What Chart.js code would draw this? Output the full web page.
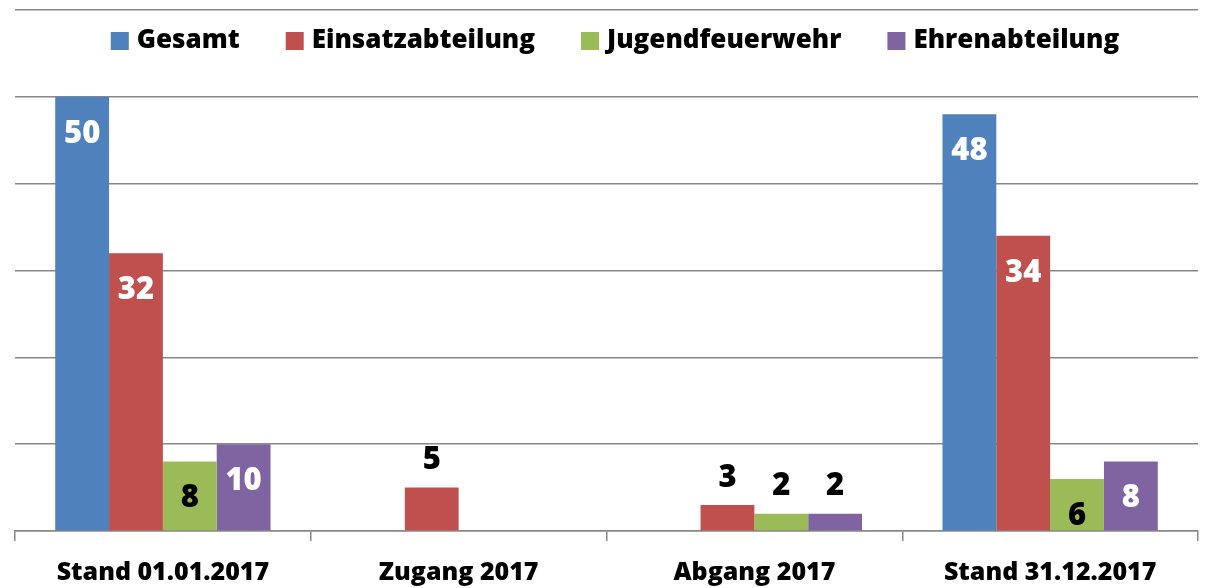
<!DOCTYPE html>
<html>
<head>
<meta charset="utf-8">
<script src="https://cdn.jsdelivr.net/npm/chart.js@4/dist/chart.umd.min.js"></script>
<style>
  html, body { margin: 0; padding: 0; background: #fff; }
  #wrap { width: 1218px; height: 588px; }
</style>
</head>
<body>
<div id="wrap"><canvas id="myChart"></canvas></div>
<script>
const categories = ['Stand 01.01.2017', 'Zugang 2017', 'Abgang 2017', 'Stand 31.12.2017'];
const gesamt = [50, null, null, 48];
const einsatz = [32, 5, 3, 34];
const jugend = [8, null, 2, 6];
const ehren = [10, null, 2, 8];

const FONT = '"Open Sans", sans-serif';

// value labels like in Excel: big bars inside at the top, small ones above
const valueLabels = {
  id: 'valueLabels',
  afterDatasetsDraw(chart) {
    const ctx = chart.ctx;
    ctx.save();
    ctx.font = '800 31px ' + FONT;
    ctx.textAlign = 'center';
    ctx.textBaseline = 'middle';
    chart.data.datasets.forEach((ds, i) => {
      chart.getDatasetMeta(i).data.forEach((bar, j) => {
        const v = ds.data[j];
        if (v === null) return;
        if (v >= 6) {
          ctx.fillStyle = ds.labelColor;
          ctx.fillText(v, bar.x, bar.y + 37);
        } else {
          ctx.fillStyle = '#000';
          ctx.fillText(v, bar.x, bar.y - 27);
        }
      });
    });
    ctx.restore();
  }
};

// legend drawn inside the plot, between the top two grid lines
const innerLegend = {
  id: 'innerLegend',
  afterDraw(chart) {
    const ctx = chart.ctx;
    const box = 18, gapText = 8, gapItem = 46;
    ctx.save();
    ctx.font = '800 26px ' + FONT;
    ctx.textBaseline = 'middle';
    const items = chart.data.datasets.map(ds => ({ text: ds.label, color: ds.backgroundColor, w: ctx.measureText(ds.label).width }));
    let total = items.reduce((s, it) => s + box + gapText + it.w, 0) + gapItem * (items.length - 1);
    let x = (chart.width - total) / 2 + 6;
    const y = 41;
    items.forEach(it => {
      ctx.fillStyle = it.color;
      ctx.fillRect(x, y - box / 2, box, box);
      ctx.fillStyle = '#000';
      ctx.fillText(it.text, x + box + gapText, y);
      x += box + gapText + it.w + gapItem;
    });
    ctx.restore();
  }
};

const ctx = document.getElementById('myChart').getContext('2d');
const myChart = new Chart(ctx, {
  type: 'bar',
  data: {
    labels: categories,
    datasets: [
      { label: 'Gesamt', data: gesamt, backgroundColor: '#4F81BD', labelColor: '#fff' },
      { label: 'Einsatzabteilung', data: einsatz, backgroundColor: '#C0504D', labelColor: '#fff' },
      { label: 'Jugendfeuerwehr', data: jugend, backgroundColor: '#9BBB59', labelColor: '#000' },
      { label: 'Ehrenabteilung', data: ehren, backgroundColor: '#8064A2', labelColor: '#fff' }
    ]
  },
  options: {
    responsive: true,
    maintainAspectRatio: false,
    animation: false,
    layout: { padding: { left: 15, right: 20, top: 10, bottom: 0 } },
    datasets: {
      bar: { categoryPercentage: 0.728, barPercentage: 1, skipNull: false }
    },
    plugins: {
      tooltip: { enabled: false },
      legend: { display: false }
    },
    scales: {
      x: {
        afterFit(scale) { scale.height = 57; },
        grid: { display: true, drawOnChartArea: false, offset: true, tickLength: 10, color: '#888', lineWidth: 1.5 },
        border: { color: '#888', width: 1.5 },
        ticks: { color: '#000', padding: 17, font: { family: FONT, size: 25, weight: '800' } }
      },
      y: {
        min: 0,
        max: 60,
        ticks: { display: false, stepSize: 10 },
        grid: { color: '#888', lineWidth: 1.5, drawTicks: false },
        border: { display: false }
      }
    }
  },
  plugins: [valueLabels, innerLegend]
});
</script>
</body>
</html>
